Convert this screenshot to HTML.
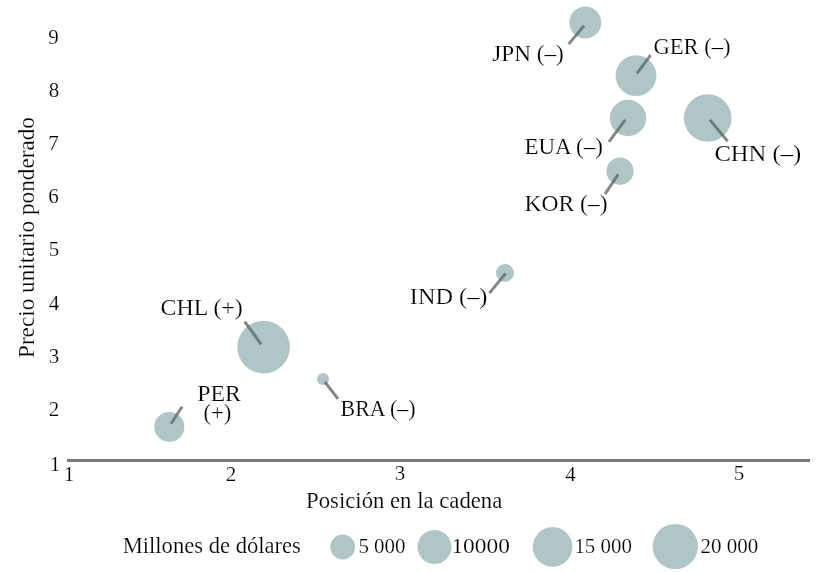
<!DOCTYPE html>
<html><head><meta charset="utf-8">
<style>
html,body{margin:0;padding:0;background:#fff;width:817px;height:572px;overflow:hidden}
svg{display:block;will-change:transform}
text{font-family:"Liberation Serif",serif;fill:#000;stroke:#fff;stroke-width:0.18px;paint-order:normal}
.l{font-size:22.6px}
.t{font-size:21px}
.g{font-size:20px}
</style></head><body>
<svg width="817" height="572" viewBox="0 0 817 572">
<!-- leader lines -->
<g stroke="#878787" stroke-width="3" stroke-linecap="butt">
<line x1="584" y1="25.8" x2="568.7" y2="44.1"/>
<line x1="650.6" y1="55.2" x2="637" y2="73.4"/>
<line x1="625.2" y1="119.9" x2="608.9" y2="141.9"/>
<line x1="709.9" y1="119.9" x2="727.6" y2="141.3"/>
<line x1="618.2" y1="174.3" x2="605" y2="194.1"/>
<line x1="505.5" y1="273.5" x2="489.4" y2="293.1"/>
<line x1="244.7" y1="321.6" x2="261.2" y2="344.3"/>
<line x1="324.9" y1="382" x2="338" y2="398.8"/>
<line x1="182.1" y1="406.8" x2="171" y2="423.7"/>
</g>
<!-- bubbles -->
<g fill="rgb(62,119,119)" fill-opacity="0.42">
<circle cx="585.3" cy="22.5" r="16"/>
<circle cx="636" cy="75.6" r="20.4"/>
<circle cx="628" cy="118" r="18.2"/>
<circle cx="707.7" cy="118" r="23.8"/>
<circle cx="620" cy="171.2" r="13.6"/>
<circle cx="505" cy="273" r="9"/>
<circle cx="263.6" cy="347.1" r="26.3"/>
<circle cx="323" cy="379" r="6"/>
<circle cx="169.3" cy="426.9" r="15"/>
<circle cx="342.7" cy="547" r="12.4"/>
<circle cx="434.5" cy="547" r="17"/>
<circle cx="552.6" cy="546.9" r="19.8"/>
<circle cx="675.3" cy="546.5" r="22.6"/>
</g>
<!-- axis -->
<rect x="67" y="459" width="743" height="3" fill="#7a7a7a"/>
<!-- labels -->
<g class="l">
<text x="492.3" y="61.4" textLength="71.4" lengthAdjust="spacingAndGlyphs">JPN (–)</text>
<text x="653.4" y="53.8" textLength="77.2" lengthAdjust="spacingAndGlyphs">GER (–)</text>
<text x="524.6" y="154.2" textLength="78.2" lengthAdjust="spacingAndGlyphs">EUA (–)</text>
<text x="714.4" y="160.7" textLength="86.9" lengthAdjust="spacingAndGlyphs">CHN (–)</text>
<text x="524.6" y="211" textLength="82.9" lengthAdjust="spacingAndGlyphs">KOR (–)</text>
<text x="409.8" y="304.2" textLength="77.6" lengthAdjust="spacingAndGlyphs">IND (–)</text>
<text x="160.6" y="315.1" textLength="82.2" lengthAdjust="spacingAndGlyphs">CHL (+)</text>
<text x="197.3" y="401" textLength="43.6" lengthAdjust="spacingAndGlyphs">PER</text>
<text x="203.4" y="419.6">(+)</text>
<text x="340.6" y="415.9" textLength="75" lengthAdjust="spacingAndGlyphs">BRA (–)</text>
<text x="306.1" y="507.9" textLength="196.2" lengthAdjust="spacingAndGlyphs">Posición en la cadena</text>
<text x="122.7" y="553.2">Millones de dólares</text>
<text transform="translate(34.1,358) rotate(-90)" x="0" y="0" textLength="240.9" lengthAdjust="spacingAndGlyphs">Precio unitario ponderado</text>
</g>
<g class="t" text-anchor="middle">
<text x="53.6" y="43.9">9</text>
<text x="54" y="97">8</text>
<text x="53.6" y="149.6">7</text>
<text x="53.6" y="203">6</text>
<text x="54" y="256.4">5</text>
<text x="54" y="309.8">4</text>
<text x="54" y="362.6">3</text>
<text x="54" y="415.5">2</text>
<text x="55" y="471">1</text>
<text x="69" y="480.5">1</text>
<text x="231" y="480.5">2</text>
<text x="400" y="479.6">3</text>
<text x="570.4" y="480.5">4</text>
<text x="739" y="479.6">5</text>
</g>
<g class="g">
<text x="358.4" y="553" textLength="47.2" lengthAdjust="spacingAndGlyphs">5 000</text>
<text x="451.4" y="553" textLength="58.5" lengthAdjust="spacingAndGlyphs">10000</text>
<text x="574.4" y="553" textLength="57.6" lengthAdjust="spacingAndGlyphs">15 000</text>
<text x="700.5" y="553" textLength="57.7" lengthAdjust="spacingAndGlyphs">20 000</text>
</g>
</svg>
</body></html>
